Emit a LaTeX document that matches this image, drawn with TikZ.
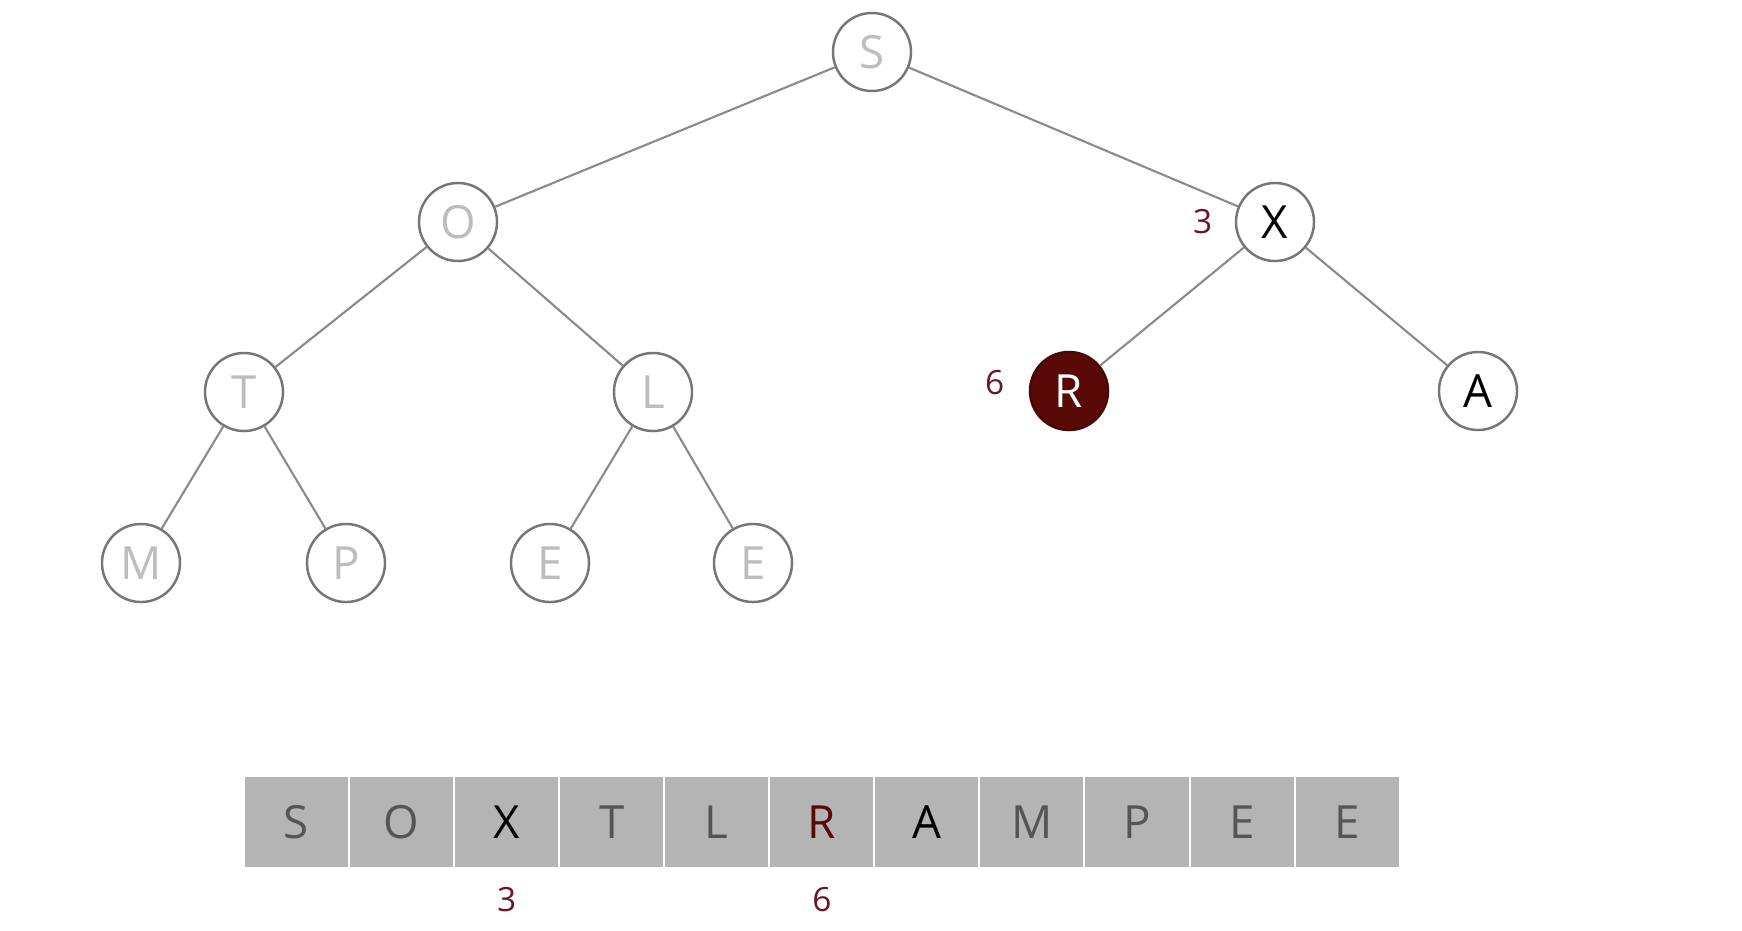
\documentclass[tikz,border=0pt]{standalone}
\usepackage{fontspec}
\setmainfont{Open Sans}
\usepackage{tikz}
\usetikzlibrary{positioning}
\definecolor{EdgeGray}{HTML}{8A8A8A}
\definecolor{RingGray}{HTML}{767676}
\definecolor{FadedText}{HTML}{BDBDBD}
\definecolor{CellGray}{HTML}{B4B4B4}
\definecolor{CellText}{HTML}{555555}
\definecolor{DarkRed}{HTML}{5A0A06}
\definecolor{MarkRed}{HTML}{6E1428}
\tikzset{
    heapnode/.style={circle, draw=RingGray, line width=0.7pt, fill=white, minimum size=0.78cm, inner sep=0pt, font=\fontsize{13}{13}\selectfont},
    heapnode_f/.style={heapnode, text=FadedText},
    heapnode_a/.style={heapnode, text=black},
    heapnode_r/.style={heapnode, draw=DarkRed!80!black, fill=DarkRed, text=white},
    edge/.style={draw=EdgeGray, line width=0.6pt},
    cell/.style={rectangle, fill=CellGray, minimum width=1.03cm, minimum height=0.89cm, inner sep=0pt, outer sep=0pt, text=CellText, font=\fontsize{13}{13}\selectfont},
    idx/.style={font=\fontsize{9.5}{9.5}\selectfont, text=MarkRed},
}
\begin{document}
\begin{tikzpicture}[x=0.01cm, y=-0.01cm]
\useasboundingbox (0,0) rectangle (1742,930);

% Tree nodes
\node[heapnode_f] (s) at (872,52) {S};
\node[heapnode_f] (o) at (458,222) {O};
\node[heapnode_a] (x) at (1275,222) {X};
\node[heapnode_f] (t) at (244,392) {T};
\node[heapnode_f] (l) at (653,392) {L};
\node[heapnode_r] (r) at (1069,391) {R};
\node[heapnode_a] (a) at (1478,391) {A};
\node[heapnode_f] (m) at (141,563) {M};
\node[heapnode_f] (p) at (346,563) {P};
\node[heapnode_f] (e1) at (550,563) {E};
\node[heapnode_f] (e2) at (753,563) {E};

% Edges
\draw[edge] (s) -- (o);
\draw[edge] (s) -- (x);
\draw[edge] (o) -- (t);
\draw[edge] (o) -- (l);
\draw[edge] (x) -- (r);
\draw[edge] (x) -- (a);
\draw[edge] (t) -- (m);
\draw[edge] (t) -- (p);
\draw[edge] (l) -- (e1);
\draw[edge] (l) -- (e2);

% Index marks in the tree
\node[idx, left=0.1cm of x] (xi) {3};
\node[idx, left=0.12cm of r, yshift=0.08cm] (ri) {6};

% Array
\node[cell] (c1) at (296.5,822) {S};
\node[cell, right=0.02cm of c1] (c2) {O};
\node[cell, right=0.02cm of c2, text=black] (c3) {X};
\node[cell, right=0.02cm of c3] (c4) {T};
\node[cell, right=0.02cm of c4] (c5) {L};
\node[cell, right=0.02cm of c5, text=DarkRed] (c6) {R};
\node[cell, right=0.02cm of c6, text=black] (c7) {A};
\node[cell, right=0.02cm of c7] (c8) {M};
\node[cell, right=0.02cm of c8] (c9) {P};
\node[cell, right=0.02cm of c9] (c10) {E};
\node[cell, right=0.02cm of c10] (c11) {E};

% Index marks under the array
\node[idx, below=0.08cm of c3] (c3i) {3};
\node[idx, below=0.08cm of c6] (c6i) {6};

\end{tikzpicture}
\end{document}
